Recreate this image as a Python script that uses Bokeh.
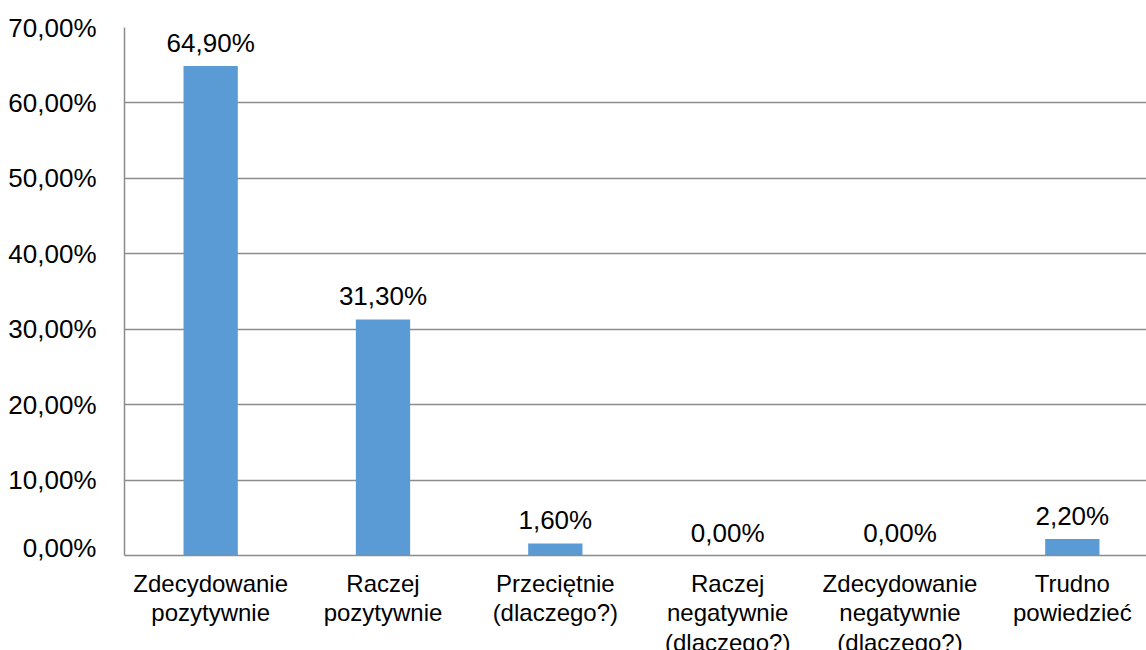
from bokeh.plotting import figure
from bokeh.layouts import column
from bokeh.models import ColumnDataSource, FixedTicker, FactorRange, Range1d
from bokeh.core.properties import value
from bokeh.embed import file_html
from bokeh.resources import INLINE

categories = ["Zdecydowanie\npozytywnie", "Raczej\npozytywnie", "Przeciętnie\n(dlaczego?)",
              "Raczej\nnegatywnie\n(dlaczego?)", "Zdecydowanie\nnegatywnie\n(dlaczego?)", "Trudno\npowiedzieć"]
values = [64.9, 31.3, 1.6, 0.0, 0.0, 2.2]
y_ticks = [0, 10, 20, 30, 40, 50, 60, 70]

def pct(v):
    return ("%.2f%%" % v).replace(".", ",")

src = ColumnDataSource(dict(x=categories, top=values, label=[pct(v) for v in values]))
cat_src = ColumnDataSource(dict(x=categories, y=[1] * len(categories), text=categories))

FONT = "Liberation Sans"
W = 1158
xr = FactorRange(*categories, range_padding=0)

p = figure(width=W, height=562, output_backend="svg", toolbar_location=None,
           x_range=xr, y_range=Range1d(0, 70))
p.min_border_left = 124
p.min_border_right = 0
p.min_border_top = 27
p.min_border_bottom = 7
p.outline_line_color = None
p.background_fill_color = "white"
p.border_fill_color = "white"

p.vbar(x="x", top="top", width=0.315, source=src, fill_color="#5B9BD5", line_color=None)
p.text(x="x", y="top", text="label", source=src, text_align="center", text_baseline="bottom",
       y_offset=-8, text_font=value(FONT), text_font_size="26px", text_color="#000000")

p.yaxis.ticker = FixedTicker(ticks=y_ticks)
p.yaxis.major_label_overrides = {t: pct(t) for t in y_ticks}
p.yaxis.major_tick_line_color = None
p.yaxis.minor_tick_line_color = None
p.yaxis.axis_line_color = "#8C8C8C"
p.yaxis.axis_line_width = 1.5
p.yaxis.major_label_text_font = FONT
p.yaxis.major_label_text_font_size = "26px"
p.yaxis.major_label_text_color = "#000000"
p.yaxis.major_label_standoff = 22

# bottom axis line only; category names are drawn in the strip below
p.xaxis.major_tick_line_color = None
p.xaxis.minor_tick_line_color = None
p.xaxis.axis_line_color = "#8C8C8C"
p.xaxis.axis_line_width = 1.5
p.xaxis.major_label_text_font_size = "0px"
p.xaxis.major_label_standoff = 0

p.xgrid.grid_line_color = None
p.ygrid.grid_line_color = "#8C8C8C"
p.ygrid.grid_line_width = 1.5

# category labels (third lines run past the bottom edge, as in the reference)
q = figure(width=W, height=88, output_backend="svg", toolbar_location=None,
           x_range=xr, y_range=Range1d(0, 1))
q.min_border_left = 124
q.min_border_right = 0
q.min_border_top = 0
q.min_border_bottom = 0
q.outline_line_color = None
q.axis.visible = False
q.grid.visible = False
q.background_fill_color = "white"
q.border_fill_color = "white"
q.text(x="x", y="y", text="text", source=cat_src, text_align="center", text_baseline="top",
       y_offset=7, text_font=value(FONT), text_font_size="24px", text_line_height=1.1,
       text_color="#000000")

layout = column(p, q, spacing=0)
open("out.html", "w").write(file_html(layout, INLINE))
